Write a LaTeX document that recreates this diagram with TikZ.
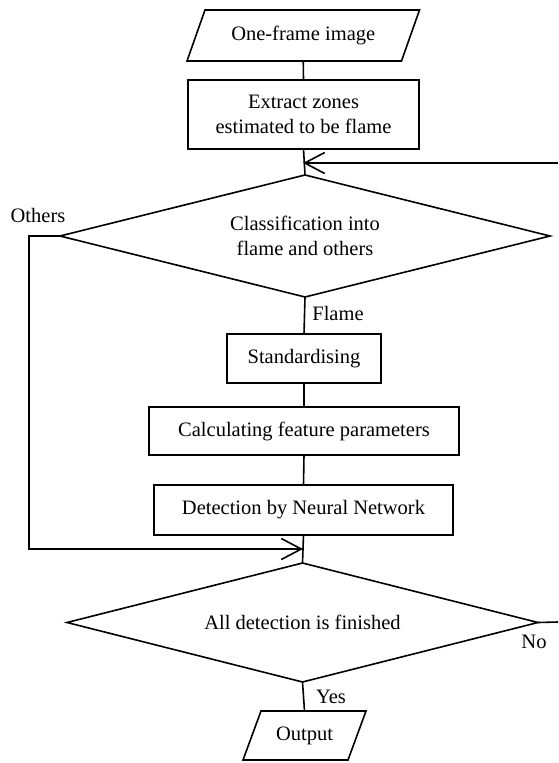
\documentclass[tikz,border=0pt]{standalone}
\usepackage{fontspec}
\setmainfont{Liberation Serif}
\usetikzlibrary{shapes.geometric,arrows.meta}
\begin{document}
\begin{tikzpicture}[x=1pt,y=-1pt,
  font=\fontsize{20.5}{24.5}\selectfont,
  line width=1.6pt,
  every node/.style={align=center,inner sep=0pt,outer sep=0pt},
  procbox/.style={draw,rectangle},
  iobox/.style={rectangle},
  decision/.style={draw,diamond,aspect=4},
  arr/.style={-{Straight Barb[length=20pt,width=21pt]}},
  lbl/.style={}
]
\useasboundingbox (0,0) rectangle (558,763);

% main column
\node[iobox,minimum width=214.5pt,minimum height=51pt] (in1) at (303.25,35.5) {One-frame image};
\draw ([xshift=9pt]in1.north west) -- ([xshift=9pt]in1.north east)
   -- ([xshift=-9pt]in1.south east) -- ([xshift=-9pt]in1.south west) -- cycle;
\node[procbox,minimum width=231pt,minimum height=69pt] (ext) at (303.5,114.5) {Extract zones\\estimated to be flame};
\coordinate (join) at (303,163);
\node[decision,minimum width=490pt,minimum height=122pt] (d1) at (305,236) {Classification into\\flame and others};
\node[procbox,minimum width=154pt,minimum height=49pt] (std) at (304,358.5) {Standardising};
\node[procbox,minimum width=310pt,minimum height=48pt] (calc) at (304,431) {Calculating feature parameters};
\node[procbox,minimum width=299pt,minimum height=50pt] (det) at (303.5,510) {Detection by Neural Network};
\coordinate (merge) at (303,549);
\node[decision,minimum width=471pt,minimum height=119pt] (d2) at (302.5,622.5) {All detection is finished};
\node[iobox,minimum width=105pt,minimum height=49pt] (out) at (304.5,735.5) {Output};
\draw ([xshift=9pt]out.north west) -- ([xshift=9pt]out.north east)
   -- ([xshift=-9pt]out.south east) -- ([xshift=-9pt]out.south west) -- cycle;

% labels
\node[lbl] (lothers) at (38,215) {Others};
\node[lbl] (lflame) at (338,313) {Flame};
\node[lbl] (lno) at (534,642) {No};
\node[lbl] (lyes) at (331,697) {Yes};

% loop ends leaving the frame on the right
\coordinate (r1) at (558,163);
\coordinate (r2) at (558,622);
\coordinate (lrail) at (29,236);

% connectors
\draw (in1.south) -- (ext.north);
\draw (ext.south) -- (d1.north);
\draw[arr] (r1) -- (join);
\draw (d1.south) -- (std.north);
\draw (std.south) -- (calc.north);
\draw (calc.south) -- (det.north);
\draw (det.south) -- (d2.north);
\draw[arr] (d1.west) -- (lrail) |- (merge);
\draw (d2.east) -- (r2);
\draw (d2.south) -- (out.north);
\end{tikzpicture}
\end{document}
